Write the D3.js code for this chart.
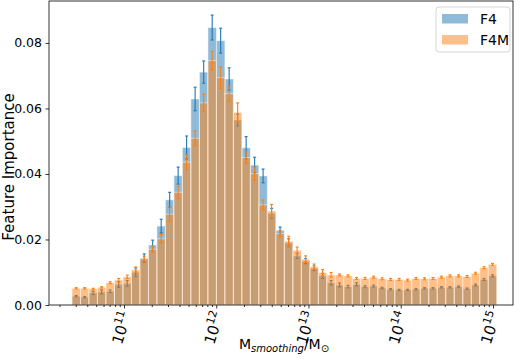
<!DOCTYPE html>
<html>
<head>
<meta charset="utf-8">
<script src="https://cdn.jsdelivr.net/npm/d3@7"></script>
<style>
  body { margin: 0; background: #fff; }
  svg { font-family: "DejaVu Sans", sans-serif; }
</style>
</head>
<body>
<div id="wrapper"></div>
<script>
// log10(M) bin centres, bin width in dex
const logMassCentres = [10.482, 10.574, 10.666, 10.758, 10.850, 10.943, 11.035, 11.127, 11.219, 11.311,
    11.403, 11.495, 11.587, 11.679, 11.771, 11.864, 11.956, 12.048, 12.140, 12.232,
    12.324, 12.416, 12.508, 12.600, 12.692, 12.785, 12.877, 12.969, 13.061, 13.153,
    13.245, 13.337, 13.429, 13.521, 13.613, 13.706, 13.798, 13.890, 13.982, 14.074,
    14.166, 14.258, 14.350, 14.442, 14.534, 14.627, 14.719, 14.811, 14.903, 14.995];
const binWidthDex = 0.0921;

const f4 = [0.0027, 0.0024, 0.0037, 0.0040, 0.0042, 0.0063, 0.0066, 0.0100, 0.0143, 0.0183,
    0.0241, 0.0321, 0.0395, 0.0481, 0.0629, 0.0711, 0.0847, 0.0807, 0.0690, 0.0565,
    0.0480, 0.0427, 0.0394, 0.0280, 0.0228, 0.0190, 0.0150, 0.0134, 0.0112, 0.0089,
    0.0068, 0.0061, 0.0056, 0.0063, 0.0056, 0.0058, 0.0052, 0.0048, 0.0046, 0.0046,
    0.0048, 0.0051, 0.0051, 0.0054, 0.0054, 0.0056, 0.0050, 0.0061, 0.0078, 0.0089];
const f4Err = [0.0002, 0.0002, 0.0005, 0.0006, 0.0004, 0.0009, 0.0009, 0.0013, 0.0013, 0.0015,
    0.0021, 0.0023, 0.0026, 0.0035, 0.0036, 0.0034, 0.0038, 0.0038, 0.0034, 0.0018,
    0.0034, 0.0024, 0.0021, 0.0015, 0.0010, 0.0012, 0.0008, 0.0008, 0.0007, 0.0008,
    0.0007, 0.0006, 0.0004, 0.0005, 0.0003, 0.0003, 0.0002, 0.0002, 0.0002, 0.0002,
    0.0002, 0.0002, 0.0002, 0.0002, 0.0002, 0.0002, 0.0002, 0.0003, 0.0003, 0.0003];

const f4m = [0.0051, 0.0051, 0.0049, 0.0054, 0.0068, 0.0076, 0.0086, 0.0108, 0.0141, 0.0170,
    0.0202, 0.0277, 0.0344, 0.0436, 0.0509, 0.0617, 0.0746, 0.0694, 0.0645, 0.0588,
    0.0450, 0.0401, 0.0306, 0.0287, 0.0218, 0.0195, 0.0167, 0.0140, 0.0117, 0.0099,
    0.0092, 0.0092, 0.0089, 0.0081, 0.0081, 0.0085, 0.0080, 0.0078, 0.0078, 0.0076,
    0.0081, 0.0080, 0.0081, 0.0085, 0.0089, 0.0089, 0.0087, 0.0097, 0.0114, 0.0124];
const f4mErr = [0.0002, 0.0002, 0.0002, 0.0002, 0.0003, 0.0005, 0.0005, 0.0008, 0.0008, 0.0010,
    0.0013, 0.0020, 0.0018, 0.0023, 0.0023, 0.0027, 0.0028, 0.0033, 0.0023, 0.0029,
    0.0018, 0.0020, 0.0015, 0.0020, 0.0010, 0.0015, 0.0010, 0.0010, 0.0008, 0.0009,
    0.0007, 0.0003, 0.0003, 0.0003, 0.0003, 0.0003, 0.0003, 0.0003, 0.0003, 0.0003,
    0.0003, 0.0003, 0.0003, 0.0003, 0.0003, 0.0003, 0.0003, 0.0003, 0.0003, 0.0003];

const yTicks = [0, 0.02, 0.04, 0.06, 0.08];
const xMajorExp = [11, 12, 13, 14, 15];
const seriesNames = ["F4", "F4M"];
const seriesColors = ["#1f77b4", "#ff7f0e"];

const dim = { width: 520, height: 361, margin: { top: 1, right: 7, bottom: 56, left: 49 } };
const plotBottom = dim.height - dim.margin.bottom;
const plotRight = dim.width - dim.margin.right;

const svg = d3.select("#wrapper").append("svg")
    .attr("width", dim.width)
    .attr("height", dim.height);

const x = d3.scaleLog()
    .domain([Math.pow(10, 10.187), Math.pow(10, 15.217)])
    .range([dim.margin.left, plotRight]);
const y = d3.scaleLinear()
    .domain([0, 0.0928])
    .range([plotBottom, dim.margin.top]);

function drawSeries(vals, errs, color) {
    const g = svg.append("g");
    g.selectAll("rect")
        .data(vals)
        .join("rect")
        .attr("x", (d, i) => x(Math.pow(10, logMassCentres[i] - binWidthDex / 2)))
        .attr("width", (d, i) => x(Math.pow(10, logMassCentres[i] + binWidthDex / 2)) - x(Math.pow(10, logMassCentres[i] - binWidthDex / 2)))
        .attr("y", d => y(d))
        .attr("height", d => plotBottom - y(d))
        .attr("fill", color)
        .attr("fill-opacity", 0.5)
        .attr("stroke", "#fff")
        .attr("stroke-opacity", 0.5)
        .attr("stroke-width", 1);

    const eb = g.append("g").attr("stroke", color).attr("stroke-width", 1.1);
    vals.forEach((d, i) => {
        const cx = x(Math.pow(10, logMassCentres[i]));
        const y0 = y(d - errs[i]), y1 = y(d + errs[i]);
        eb.append("line").attr("x1", cx).attr("x2", cx).attr("y1", y0).attr("y2", y1);
        eb.append("line").attr("x1", cx - 1.5).attr("x2", cx + 1.5).attr("y1", y0).attr("y2", y0);
        eb.append("line").attr("x1", cx - 1.5).attr("x2", cx + 1.5).attr("y1", y1).attr("y2", y1);
    });
}

drawSeries(f4, f4Err, seriesColors[0]);
drawSeries(f4m, f4mErr, seriesColors[1]);

// frame
svg.append("rect")
    .attr("x", dim.margin.left).attr("y", dim.margin.top)
    .attr("width", plotRight - dim.margin.left)
    .attr("height", plotBottom - dim.margin.top)
    .attr("fill", "none").attr("stroke", "#000").attr("stroke-width", 0.8);

// y axis
const yAxis = svg.append("g")
    .attr("transform", `translate(${dim.margin.left},0)`)
    .call(d3.axisLeft(y).tickValues(yTicks).tickFormat(d3.format(".2f")).tickSize(3.5).tickPadding(3.5));
yAxis.select(".domain").remove();
yAxis.selectAll("text").attr("font-size", 12.5).attr("font-family", "DejaVu Sans").attr("fill", "#000");

// x axis: major + minor ticks
const majors = xMajorExp.map(e => Math.pow(10, e));
const minors = [];
for (let e = 10; e <= 15; e++) {
    for (let m = 2; m <= 9; m++) {
        const v = m * Math.pow(10, e);
        if (v > x.domain()[0] && v < x.domain()[1]) minors.push(v);
    }
}
const xMinor = svg.append("g")
    .attr("transform", `translate(0,${plotBottom})`)
    .call(d3.axisBottom(x).tickValues(minors).tickFormat("").tickSize(2));
xMinor.select(".domain").remove();
const xMajor = svg.append("g")
    .attr("transform", `translate(0,${plotBottom})`)
    .call(d3.axisBottom(x).tickValues(majors).tickFormat("").tickSize(3.5));
xMajor.select(".domain").remove();
svg.selectAll(".tick line").attr("stroke-width", 0.8);

xMajorExp.forEach(e => {
    const t = svg.append("text")
        .attr("transform", `translate(${x(Math.pow(10, e)) - 2},${plotBottom + 23}) rotate(-72)`)
        .attr("text-anchor", "middle")
        .attr("dominant-baseline", "central")
        .attr("font-size", 15)
        .text("10");
    t.append("tspan").attr("font-size", 11).attr("dy", -6).text(e);
});

// axis labels
svg.append("text")
    .attr("transform", "translate(9,167) rotate(-90)")
    .attr("text-anchor", "middle")
    .attr("dominant-baseline", "central")
    .attr("font-size", 15)
    .text("Feature Importance");

const xl = svg.append("text")
    .attr("x", (dim.margin.left + plotRight) / 2 + 3)
    .attr("y", 349)
    .attr("text-anchor", "middle")
    .attr("font-size", 14);
xl.append("tspan").text("M");
xl.append("tspan").attr("font-size", 10).attr("font-style", "italic").attr("dy", 3).text("smoothing");
xl.append("tspan").attr("dy", -3).text("/M");
xl.append("tspan").attr("font-size", 10).attr("dy", 3).text("\u2299");

// legend
const lg = svg.append("g").attr("transform", "translate(436,7)");
lg.append("rect")
    .attr("width", 74).attr("height", 45).attr("rx", 3)
    .attr("fill", "#fff").attr("fill-opacity", 0.8)
    .attr("stroke", "#ccc").attr("stroke-width", 0.8);
seriesNames.forEach((name, i) => {
    lg.append("rect")
        .attr("x", 6).attr("y", 7 + i * 21)
        .attr("width", 26).attr("height", 9.5)
        .attr("fill", seriesColors[i]).attr("fill-opacity", 0.5);
    lg.append("text")
        .attr("x", 44).attr("y", 12 + i * 21)
        .attr("dominant-baseline", "central")
        .attr("font-size", 14)
        .text(name);
});
</script>
</body>
</html>
